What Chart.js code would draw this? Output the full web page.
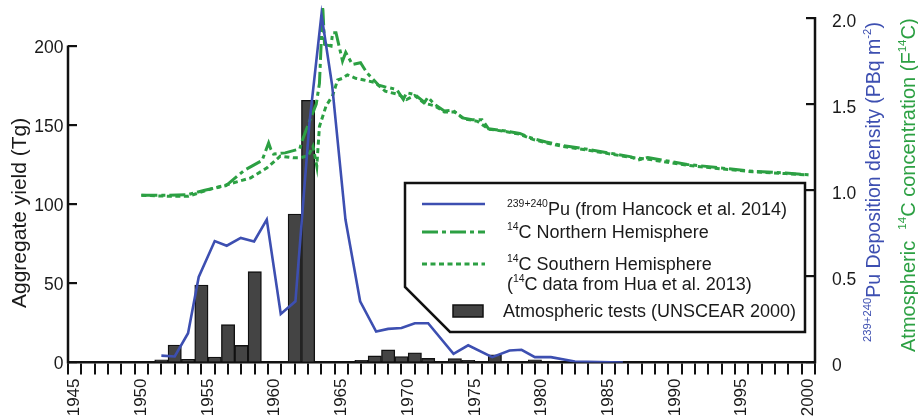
<!DOCTYPE html>
<html>
<head>
<meta charset="utf-8">
<title>Atmospheric tests, Pu deposition and bomb 14C</title>
<script src="https://cdn.jsdelivr.net/npm/chart.js@4.4.0/dist/chart.umd.min.js"></script>
<style>
  html, body { margin: 0; padding: 0; background: #fff; }
  #wrap { width: 918px; height: 420px; }
</style>
</head>
<body>
<div id="wrap"><canvas id="chart" width="918" height="420"></canvas></div>
<script>
// Atmospheric test yields (Tg), one bar per calendar year
const testYears = [1951, 1952, 1953, 1954, 1955, 1956, 1957, 1958, 1961, 1962,
  1966, 1967, 1968, 1969, 1970, 1971, 1973, 1974, 1976, 1979];
const testYields = [1.7, 11, 2, 49, 3.4, 24, 10.8, 57.5, 94, 166,
  1.3, 4.2, 8, 3.8, 6.2, 2.6, 2.5, 1.3, 4.8, 1.7];

// 239+240Pu deposition density (PBq m-2)
const puYears = [1951.5, 1952.5, 1953.5, 1954.3, 1955.5, 1956.4, 1957.45, 1958.45, 1959.4, 1960.45,
  1961.55, 1962.6, 1963.5, 1964.3, 1965.3, 1966.4, 1967.6, 1968.5, 1969.5, 1970.5,
  1971.5, 1973.4, 1974.5, 1976.3, 1977.6, 1978.5, 1979.5, 1980.7, 1982.5, 1986.1];
const puDeposition = [0.04, 0.035, 0.17, 0.497, 0.705, 0.678, 0.723, 0.703, 0.83, 0.282,
  0.355, 1.39, 2.02, 1.61, 0.83, 0.355, 0.18, 0.195, 0.2, 0.228,
  0.228, 0.05, 0.1, 0.031, 0.07, 0.074, 0.031, 0.031, 0.006, 0];

// Atmospheric 14C (F14C), northern hemisphere
const nhYears = [1950.0, 1952.0, 1953.5, 1954.75, 1956.35, 1957.7, 1959.05, 1959.54, 1959.71, 1959.91,
  1960.78, 1961.88, 1962.0, 1962.6, 1963.11, 1963.35, 1963.6, 1963.73, 1964.22, 1964.34,
  1964.59, 1965.08, 1965.32, 1965.82, 1966.43, 1966.68, 1966.93, 1967.79, 1968.28, 1969.14,
  1969.64, 1969.88, 1970.49, 1971.23, 1971.48, 1971.97, 1972.71, 1973.33, 1974.07, 1974.8,
  1975.54, 1976.03, 1977.39, 1978.37, 1979.35, 1980.34, 1981.57, 1983.29, 1986.73, 1987.23,
  1987.97, 1990.92, 1993.38, 1995.85, 1998.3, 2000.0];
const nhF14C = [0.971, 0.971, 0.975, 1.0, 1.027, 1.115, 1.173, 1.275, 1.237, 1.21,
  1.217, 1.24, 1.276, 1.4, 1.5, 1.62, 2.066, 1.847, 1.837, 1.915,
  1.915, 1.75, 1.8, 1.73, 1.74, 1.71, 1.68, 1.61, 1.6, 1.585,
  1.527, 1.566, 1.556, 1.51, 1.54, 1.5, 1.46, 1.465, 1.42, 1.41,
  1.41, 1.357, 1.343, 1.33, 1.3, 1.28, 1.26, 1.24, 1.194, 1.175,
  1.19, 1.15, 1.13, 1.11, 1.1, 1.09];

// Atmospheric 14C (F14C), southern hemisphere
const shYears = [1950.0, 1952.04, 1953.5, 1955.24, 1956.47, 1958.2, 1959.42, 1960.41, 1961.39, 1961.88,
  1962.5, 1962.87, 1963.15, 1963.35, 1963.85, 1964.34, 1964.71, 1965.08, 1965.45, 1966.06,
  1966.68, 1967.54, 1968.28, 1969.27, 1969.88, 1970.49, 1971.23, 1972.0, 1972.71, 1973.5,
  1974.2, 1975.2, 1976.03, 1977.39, 1978.37, 1979.35, 1980.34, 1981.57, 1983.29, 1986.73,
  1988.0, 1990.92, 1993.38, 1995.85, 1998.3, 2000.0];
const shF14C = [0.971, 0.965, 0.965, 1.008, 1.033, 1.072, 1.13, 1.198, 1.188, 1.188,
  1.2, 1.255, 1.14, 1.37, 1.49, 1.55, 1.64, 1.65, 1.67, 1.65,
  1.64, 1.625, 1.575, 1.556, 1.527, 1.55, 1.505, 1.49, 1.455, 1.455,
  1.415, 1.4, 1.355, 1.34, 1.325, 1.295, 1.275, 1.255, 1.235, 1.19,
  1.18, 1.145, 1.125, 1.107, 1.097, 1.088];

const yieldTicks = [0, 50, 100, 150, 200];
const rightTicks = [0, 0.5, 1, 1.5, 2];

const FONT = '"Liberation Sans", Arial, sans-serif';
const INK = '#111111';
const BLUE = '#3d4fb1';
const GREEN = '#2ca043';
const BAR_FILL = '#444444';
const NH_DASH = [16, 4, 4, 4];
const SH_DASH = [5, 3.5];

const pts = (xs, ys) => xs.map((x, i) => ({ x: x, y: ys[i] }));

// draw a run of text with optional superscript pieces, returns end x
function drawRich(ctx, parts, x, y, size, color) {
  let cx = x;
  ctx.fillStyle = color;
  ctx.textBaseline = 'alphabetic';
  ctx.textAlign = 'left';
  parts.forEach(p => {
    const s = p.sup ? size * 0.58 : size;
    ctx.font = s + 'px ' + FONT;
    ctx.fillText(p.t, cx, p.sup ? y - size * 0.45 : y);
    cx += ctx.measureText(p.t).width;
  });
  return cx;
}

function drawVertical(ctx, parts, x, y, size, color) {
  ctx.save();
  ctx.translate(x, y);
  ctx.rotate(-Math.PI / 2);
  drawRich(ctx, parts, 0, 0, size, color);
  ctx.restore();
}

// keep the plot box fixed: no extra room reserved for end labels
const noPad = s => {
  s.paddingTop = 0;
  s.paddingBottom = 0;
  s.paddingLeft = 0;
  s.paddingRight = 0;
};

const decorations = {
  id: 'decorations',
  afterDraw(chart) {
    const { ctx, chartArea } = chart;
    const yl = chart.scales.y;
    const yr = chart.scales.y1;

    // vertical axis lines only run to the top tick
    ctx.save();
    ctx.strokeStyle = INK;
    ctx.lineWidth = 2.5;
    ctx.beginPath();
    ctx.moveTo(chartArea.left, yl.getPixelForValue(0) + 1);
    ctx.lineTo(chartArea.left, yl.getPixelForValue(200) - 1);
    ctx.moveTo(chartArea.right, yr.getPixelForValue(0) + 1);
    ctx.lineTo(chartArea.right, yr.getPixelForValue(2) - 1);
    ctx.stroke();
    ctx.restore();

    // axis titles
    drawVertical(ctx, [{ t: 'Aggregate yield (Tg)' }], 26, 308, 21, '#1a1a1a');
    drawVertical(ctx, [
      { t: '239+240', sup: true }, { t: 'Pu Deposition density (PBq m' },
      { t: '-2', sup: true }, { t: ')' }
    ], 880, 342, 19.5, BLUE);
    drawVertical(ctx, [
      { t: 'Atmospheric  ' }, { t: '14', sup: true }, { t: 'C concentration (F' },
      { t: '14', sup: true }, { t: 'C)' }
    ], 915, 352, 20, GREEN);

    // legend box with a clipped lower-left corner
    ctx.save();
    ctx.beginPath();
    ctx.moveTo(405, 183);
    ctx.lineTo(805, 183);
    ctx.lineTo(805, 332);
    ctx.lineTo(450, 332);
    ctx.lineTo(405, 287);
    ctx.closePath();
    ctx.fillStyle = '#ffffff';
    ctx.fill();
    ctx.strokeStyle = INK;
    ctx.lineWidth = 2.5;
    ctx.stroke();

    const ds = chart.data.datasets;
    const sample = (d, y) => {
      ctx.save();
      ctx.strokeStyle = d.borderColor;
      ctx.lineWidth = d.borderWidth;
      ctx.setLineDash(d.borderDash || []);
      ctx.beginPath();
      ctx.moveTo(422, y);
      ctx.lineTo(485, y);
      ctx.stroke();
      ctx.restore();
    };
    sample(ds[0], 204);
    sample(ds[1], 232);
    sample(ds[2], 264);

    ctx.fillStyle = ds[3].backgroundColor;
    ctx.fillRect(453, 305, 30, 12);
    ctx.strokeStyle = INK;
    ctx.lineWidth = 1.5;
    ctx.strokeRect(453, 305, 30, 12);

    const size = 18;
    drawRich(ctx, [{ t: '239+240', sup: true }, { t: 'Pu (from Hancock et al. 2014)' }], 507, 215, size, '#1a1a1a');
    drawRich(ctx, [{ t: '14', sup: true }, { t: 'C Northern Hemisphere' }], 507, 238, size, '#1a1a1a');
    drawRich(ctx, [{ t: '14', sup: true }, { t: 'C Southern Hemisphere' }], 507, 270, size, '#1a1a1a');
    drawRich(ctx, [{ t: '(' }, { t: '14', sup: true }, { t: 'C data from Hua et al. 2013)' }], 507, 290, size, '#1a1a1a');
    drawRich(ctx, [{ t: 'Atmospheric tests (UNSCEAR 2000)' }], 503, 317, size, '#1a1a1a');
    ctx.restore();
  }
};

Chart.defaults.font.family = FONT;
Chart.defaults.color = '#1a1a1a';

new Chart(document.getElementById('chart'), {
  type: 'line',
  data: {
    datasets: [
      {
        label: '239+240Pu (from Hancock et al. 2014)',
        data: pts(puYears, puDeposition),
        yAxisID: 'y1',
        borderColor: BLUE,
        borderWidth: 2.6,
        pointRadius: 0,
        tension: 0,
        order: 0
      },
      {
        label: '14C Northern Hemisphere',
        data: pts(nhYears, nhF14C),
        yAxisID: 'y1',
        borderColor: GREEN,
        borderWidth: 3,
        borderDash: NH_DASH,
        pointRadius: 0,
        tension: 0,
        order: 1
      },
      {
        label: '14C Southern Hemisphere',
        data: pts(shYears, shF14C),
        yAxisID: 'y1',
        borderColor: GREEN,
        borderWidth: 3,
        borderDash: SH_DASH,
        pointRadius: 0,
        tension: 0,
        order: 2
      },
      {
        type: 'bar',
        label: 'Atmospheric tests (UNSCEAR 2000)',
        data: pts(testYears.map(y => y + 0.5), testYields),
        yAxisID: 'y',
        backgroundColor: BAR_FILL,
        borderColor: INK,
        borderWidth: 1.4,
        barPercentage: 1,
        categoryPercentage: 1,
        order: 5
      }
    ]
  },
  options: {
    responsive: false,
    devicePixelRatio: 1,
    animation: false,
    layout: { padding: { top: 5, left: 0, right: 0, bottom: 0 } },
    plugins: { legend: { display: false }, tooltip: { enabled: false } },
    scales: {
      x: {
        type: 'linear',
        min: 1945,
        max: 2000,
        afterFit: s => { s.height = 57.5; noPad(s); },
        border: { display: true, color: INK, width: 2.5 },
        grid: { drawOnChartArea: false, drawTicks: true, tickLength: 12, color: INK, lineWidth: 2 },
        ticks: {
          stepSize: 1,
          autoSkip: false,
          minRotation: 90,
          maxRotation: 90,
          padding: 4,
          font: { size: 17 },
          callback: v => (v % 5 === 0 ? String(v) : '')
        }
      },
      y: {
        position: 'left',
        min: 0,
        max: 226.3,
        afterFit: s => { s.width = 68; noPad(s); },
        afterBuildTicks: s => { s.ticks = yieldTicks.map(v => ({ value: v })); },
        border: { display: false },
        grid: { drawOnChartArea: false, drawTicks: true, tickLength: -9, color: INK, lineWidth: 2.2 },
        ticks: { padding: 13.5, labelOffset: 2, font: { size: 17.5 } }
      },
      y1: {
        position: 'right',
        min: 0,
        max: 2.0755,
        afterFit: s => { s.width = 103; noPad(s); },
        afterBuildTicks: s => { s.ticks = rightTicks.map(v => ({ value: v })); },
        border: { display: false },
        grid: { drawOnChartArea: false, drawTicks: true, tickLength: -9, color: INK, lineWidth: 2.2 },
        ticks: {
          padding: 26,
          labelOffset: 4,
          font: { size: 17.5 },
          callback: v => (v === 0 ? '0' : v.toFixed(1))
        }
      }
    }
  },
  plugins: [decorations]
});
</script>
</body>
</html>
